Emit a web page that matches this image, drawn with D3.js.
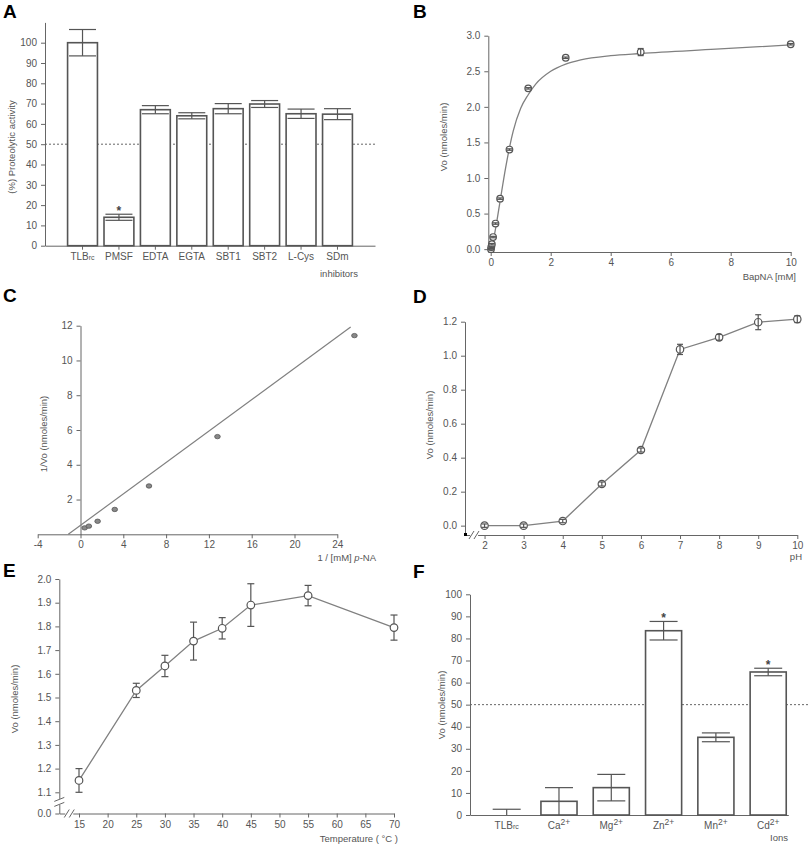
<!DOCTYPE html>
<html>
<head>
<meta charset="utf-8">
<script src="https://cdn.jsdelivr.net/npm/d3@7"></script>
<style>
  body { margin: 0; background: #fff; }
</style>
</head>
<body>
<div id="chart"></div>
<script>
// Data
// A - inhibitors
const inhibitors = ['TLBrc', 'PMSF', 'EDTA', 'EGTA', 'SBT1', 'SBT2', 'L-Cys', 'SDm']
const inhibitorActivity = [100, 14, 67, 64, 67.5, 69.8, 65, 64.8]
const inhibitorError = [6.5, 1.5, 2, 1.5, 2.5, 1.7, 2.3, 2.7]
const inhibitorStars = ['PMSF']

// B - Michaelis-Menten
const bapnaConc = [0.01, 0.02, 0.04, 0.08, 0.16, 0.3125, 0.625, 1.25, 2.5, 5, 10]
const bapnaVo = [0.0, 0.03, 0.07, 0.17, 0.36, 0.71, 1.40, 2.26, 2.69, 2.77, 2.88]
const bapnaErr = [0.01, 0.01, 0.01, 0.01, 0.01, 0.01, 0.01, 0.01, 0.01, 0.05, 0.01]
const bapnaFitX = [0, 0.1, 0.2, 0.3, 0.5, 0.75, 1, 1.25, 1.5, 2, 2.5, 3, 4, 5, 7.5, 10]
const bapnaFitY = [0, 0.15, 0.38, 0.64, 1.15, 1.66, 1.98, 2.17, 2.32, 2.50, 2.60, 2.66, 2.72, 2.75, 2.81, 2.87]

// C - Lineweaver-Burk
const lbX = [0.39, 0.78, 1.6, 3.2, 6.4, 12.8, 25.6]
const lbY = [0.37, 0.47, 0.75, 1.43, 2.78, 5.62, 11.43]
const lbFitX = [-1.14, 25.25]
const lbFitY = [0, 11.93]

// D - pH
const phValues = [2, 3, 4, 5, 6, 7, 8, 9, 10]
const phVo = [0.0, 0.0, 0.027, 0.245, 0.445, 1.037, 1.108, 1.197, 1.215]
const phErr = [0.01, 0.01, 0.01, 0.012, 0.012, 0.03, 0.017, 0.044, 0.02]

// E - temperature
const temps = [15, 25, 30, 35, 40, 45, 55, 70]
const tempVo = [1.15, 1.53, 1.633, 1.738, 1.792, 1.89, 1.93, 1.795]
const tempErr = [0.05, 0.03, 0.045, 0.08, 0.045, 0.09, 0.043, 0.053]

// F - ions
const ions = ['TLBrc', 'Ca', 'Mg', 'Zn', 'Mn', 'Cd']
const ionVo = [0, 6.2, 12.4, 83.5, 35.2, 64.8]
const ionErr = [2.6, 6.2, 6, 4.2, 2, 1.7]
const ionStars = ['Zn', 'Cd']

// Style
const font = '"Liberation Sans", Arial, sans-serif'
const textColor = '#555'
const axisColor = '#666'
const markColor = '#555'
const lineColor = '#808080'

const svg = d3.select('#chart')
  .append('svg')
  .attr('width', 809)
  .attr('height', 846)
  .attr('font-family', font)

function styleAxis(g) {
  g.selectAll('path, line').attr('stroke', axisColor).attr('stroke-width', 1)
  g.selectAll('text').attr('fill', textColor).attr('font-size', 10).attr('font-family', font)
  return g
}

function panelLetter(letter, x, y) {
  svg.append('text')
    .attr('x', x).attr('y', y)
    .attr('font-size', 19).attr('font-weight', 'bold')
    .attr('fill', '#000')
    .text(letter)
}

function yLabel(text, x, y) {
  return svg.append('text')
    .attr('transform', `translate(${x},${y}) rotate(-90)`)
    .attr('text-anchor', 'middle')
    .attr('font-size', 9.5)
    .attr('fill', textColor)
    .text(text)
}

function xLabel(text, x, y) {
  return svg.append('text')
    .attr('x', x).attr('y', y)
    .attr('text-anchor', 'end')
    .attr('font-size', 9.5)
    .attr('fill', textColor)
    .text(text)
}

function errorBars(g, xs, ys, es, xScale, yScale, half, floor) {
  const data = xs.map((x, i) => ({ x, lo: Math.max(floor, ys[i] - es[i]), hi: ys[i] + es[i] }))
  g.selectAll(null).data(data).join('line')
    .attr('x1', d => xScale(d.x)).attr('x2', d => xScale(d.x))
    .attr('y1', d => yScale(d.lo)).attr('y2', d => yScale(d.hi))
    .attr('stroke', markColor).attr('stroke-width', 1.2)
  g.selectAll(null).data(data).join('line')
    .attr('x1', d => xScale(d.x) - half).attr('x2', d => xScale(d.x) + half)
    .attr('y1', d => yScale(d.hi)).attr('y2', d => yScale(d.hi))
    .attr('stroke', markColor).attr('stroke-width', 1.2)
  g.selectAll(null).data(data.filter(d => d.lo > floor)).join('line')
    .attr('x1', d => xScale(d.x) - half).attr('x2', d => xScale(d.x) + half)
    .attr('y1', d => yScale(d.lo)).attr('y2', d => yScale(d.lo))
    .attr('stroke', markColor).attr('stroke-width', 1.2)
}

function breakMark(g, cx, cy, vertical) {
  // two short slanted strokes across an axis
  const off = [-2.5, 2.5]
  off.forEach(o => {
    g.append('line')
      .attr('x1', vertical ? cx - 5 : cx + o - 2.5)
      .attr('x2', vertical ? cx + 5 : cx + o + 2.5)
      .attr('y1', vertical ? cy + o + 2 : cy + 4)
      .attr('y2', vertical ? cy + o - 2 : cy - 4)
      .attr('stroke', axisColor).attr('stroke-width', 1)
  })
}

// ---------------- Panel A ----------------
{
  const xA = d3.scaleBand().domain(inhibitors).range([45, 375]).paddingInner(0.18).paddingOuter(0.62)
  const yA = d3.scaleLinear().domain([0, 110]).range([245.7, 22.4])
  const g = svg.append('g')

  styleAxis(g.append('g')
    .attr('transform', 'translate(45,0)')
    .call(d3.axisLeft(yA).tickValues(d3.range(0, 101, 10)).tickSize(4).tickPadding(4).tickSizeOuter(0)))

  const xAxisG = styleAxis(g.append('g')
    .attr('transform', `translate(0,${yA(0)})`)
    .call(d3.axisBottom(xA).tickSize(4).tickSizeOuter(0)))
  xAxisG.selectAll('.tick text').each(function(d) {
    if (d === 'TLBrc') {
      const t = d3.select(this).text(null)
      t.append('tspan').text('TLB')
      t.append('tspan').attr('font-size', 7).text('rc')
    }
  })

  g.append('line')
    .attr('x1', 45).attr('x2', 375)
    .attr('y1', yA(50)).attr('y2', yA(50))
    .attr('stroke', '#666').attr('stroke-dasharray', '2,2')

  g.selectAll('rect').data(inhibitors).join('rect')
    .attr('x', d => xA(d))
    .attr('y', (d, i) => yA(inhibitorActivity[i]))
    .attr('width', xA.bandwidth())
    .attr('height', (d, i) => yA(0) - yA(inhibitorActivity[i]))
    .attr('fill', 'white').attr('stroke', markColor).attr('stroke-width', 1.6)

  const cx = d => xA(d) + xA.bandwidth() / 2
  errorBars(g, inhibitors, inhibitorActivity, inhibitorError, cx, yA, 13.5, -1)

  g.selectAll('.star').data(inhibitorStars).join('text')
    .attr('x', d => cx(d))
    .attr('y', d => { const i = inhibitors.indexOf(d); return yA(inhibitorActivity[i] + inhibitorError[i]) + 1 })
    .attr('text-anchor', 'middle').attr('font-size', 12).attr('font-weight', 'bold')
    .attr('fill', '#444').text('*')

  yLabel('(%) Proteolytic activity', 15, 147)
  svg.append('text').attr('x', 320).attr('y', 277)
    .attr('font-size', 9.5).attr('fill', textColor).text('inhibitors')
  panelLetter('A', 3, 18)
}

// ---------------- Panel B ----------------
{
  const xB = d3.scaleLinear().domain([-0.08, 10]).range([488.3, 790.7])
  const yB = d3.scaleLinear().domain([-0.04, 3]).range([252, 35.7])
  const g = svg.append('g')

  styleAxis(g.append('g')
    .attr('transform', `translate(${xB(-0.08)},0)`)
    .call(d3.axisLeft(yB).tickValues(d3.range(0, 3.01, 0.5)).tickFormat(d3.format('.1f')).tickSize(4).tickPadding(4).tickSizeOuter(0)))
  styleAxis(g.append('g')
    .attr('transform', `translate(0,${yB(-0.04)})`)
    .call(d3.axisBottom(xB).tickValues(d3.range(0, 11, 2)).tickSize(4).tickSizeOuter(0)))

  const fit = bapnaFitX.map((x, i) => [x, bapnaFitY[i]])
  g.append('path')
    .datum(fit)
    .attr('d', d3.line().x(d => xB(d[0])).y(d => yB(d[1])).curve(d3.curveMonotoneX))
    .attr('fill', 'none').attr('stroke', lineColor).attr('stroke-width', 1.3)

  g.selectAll('circle').data(bapnaConc).join('circle')
    .attr('cx', d => xB(d))
    .attr('cy', (d, i) => yB(bapnaVo[i]))
    .attr('r', 3.3)
    .attr('fill', 'white').attr('stroke', markColor).attr('stroke-width', 1.2)
  errorBars(g, bapnaConc, bapnaVo, bapnaErr, xB, yB, 3, -1)

  yLabel('Vo (nmoles/min)', 447, 137)
  xLabel('BapNA [mM]', 796, 280)
  panelLetter('B', 413, 18)
}

// ---------------- Panel C ----------------
{
  const xC = d3.scaleLinear().domain([-4, 24]).range([37.7, 337.3])
  const yC = d3.scaleLinear().domain([0, 12]).range([534.3, 325.7])
  const g = svg.append('g')

  styleAxis(g.append('g')
    .attr('transform', `translate(${xC(0)},0)`)
    .call(d3.axisLeft(yC).tickValues(d3.range(2, 13, 2)).tickSize(4).tickPadding(4).tickSizeOuter(0)))
  styleAxis(g.append('g')
    .attr('transform', `translate(0,${yC(0)})`)
    .call(d3.axisBottom(xC).tickValues(d3.range(-4, 25, 4)).tickFormat(d => String(d)).tickSize(4).tickSizeOuter(0)))

  const fit = lbFitX.map((x, i) => [x, lbFitY[i]])
  g.append('path')
    .datum(fit)
    .attr('d', d3.line().x(d => xC(d[0])).y(d => yC(d[1])))
    .attr('fill', 'none').attr('stroke', lineColor).attr('stroke-width', 1.2)

  g.selectAll('ellipse').data(lbX).join('ellipse')
    .attr('cx', d => xC(d))
    .attr('cy', (d, i) => yC(lbY[i]))
    .attr('rx', 2.8).attr('ry', 2.2)
    .attr('fill', '#888').attr('stroke', '#555').attr('stroke-width', 0.8)

  yLabel('1/Vo (nmoles/min)', 47, 434)
  const t = xLabel('', 376, 561)
  t.append('tspan').text('1 / [mM] ')
  t.append('tspan').attr('font-style', 'italic').text('p')
  t.append('tspan').text('-NA')
  panelLetter('C', 3, 302)
}

// ---------------- Panel D ----------------
{
  const xD = d3.scaleLinear().domain([1.5, 10]).range([465, 797.3])
  const yD = d3.scaleLinear().domain([-0.055, 1.2]).range([535, 321.7])
  const g = svg.append('g')

  styleAxis(g.append('g')
    .attr('transform', `translate(${xD(1.5)},0)`)
    .call(d3.axisLeft(yD).tickValues(d3.range(0, 1.21, 0.2)).tickFormat(d3.format('.1f')).tickSize(4).tickPadding(4).tickSizeOuter(0)))
  styleAxis(g.append('g')
    .attr('transform', `translate(0,${yD(-0.055)})`)
    .call(d3.axisBottom(xD).tickValues(d3.range(2, 11, 1)).tickSize(4).tickSizeOuter(0)))

  // axis break and corner
  g.append('rect').attr('x', xD(1.5) - 1).attr('y', yD(-0.055) - 2).attr('width', 3).attr('height', 3).attr('fill', '#000')
  g.append('rect').attr('x', xD(1.63)).attr('y', yD(-0.055) - 5).attr('width', 8).attr('height', 10).attr('fill', 'white')
  breakMark(g, xD(1.73), yD(-0.055), false)

  const pts = phValues.map((x, i) => [x, phVo[i]])
  g.append('path')
    .datum(pts)
    .attr('d', d3.line().x(d => xD(d[0])).y(d => yD(d[1])))
    .attr('fill', 'none').attr('stroke', lineColor).attr('stroke-width', 1.3)

  g.selectAll('circle').data(phValues).join('circle')
    .attr('cx', d => xD(d))
    .attr('cy', (d, i) => yD(phVo[i]))
    .attr('r', 3.7)
    .attr('fill', 'white').attr('stroke', markColor).attr('stroke-width', 1.2)
  errorBars(g, phValues, phVo, phErr, xD, yD, 3, -1)

  yLabel('Vo (nmoles/min)', 433, 425)
  xLabel('pH', 802, 560)
  panelLetter('D', 413, 303)
}

// ---------------- Panel E ----------------
{
  const xE = d3.scaleLinear().domain([11.56, 70]).range([59.3, 394])
  const yE = d3.scaleLinear().domain([0, 1.1, 2.0]).range([813.5, 792.3, 579])
  const g = svg.append('g')

  const yTicks = [0].concat(d3.range(1.1, 2.01, 0.1))
  styleAxis(g.append('g')
    .attr('transform', `translate(${xE(11.56)},0)`)
    .call(d3.axisLeft(yE).tickValues(yTicks).tickFormat(d3.format('.1f')).tickSize(4).tickPadding(4).tickSizeOuter(0)))
  styleAxis(g.append('g')
    .attr('transform', `translate(0,${yE(0)})`)
    .call(d3.axisBottom(xE).tickValues(d3.range(15, 71, 5)).tickSize(4).tickSizeOuter(0)))

  g.append('rect').attr('x', xE(11.56) - 3).attr('y', yE(0.55) - 4).attr('width', 6).attr('height', 6).attr('fill', 'white')
  breakMark(g, xE(11.56), yE(0.55) - 1, true)
  g.append('rect').attr('x', xE(12.6)).attr('y', yE(0) - 5).attr('width', 8).attr('height', 10).attr('fill', 'white')
  breakMark(g, xE(13.3), yE(0), false)

  const pts = temps.map((x, i) => [x, tempVo[i]])
  g.append('path')
    .datum(pts)
    .attr('d', d3.line().x(d => xE(d[0])).y(d => yE(d[1])))
    .attr('fill', 'none').attr('stroke', lineColor).attr('stroke-width', 1.3)

  errorBars(g, temps, tempVo, tempErr, xE, yE, 3.5, -1)
  g.selectAll('circle').data(temps).join('circle')
    .attr('cx', d => xE(d))
    .attr('cy', (d, i) => yE(tempVo[i]))
    .attr('r', 3.8)
    .attr('fill', 'white').attr('stroke', markColor).attr('stroke-width', 1.2)

  yLabel('Vo (nmoles/min)', 18, 699)
  xLabel('Temperature ( \u00B0C )', 398, 842)
  panelLetter('E', 3, 577)
}

// ---------------- Panel F ----------------
{
  const xF = d3.scaleBand().domain(ions).range([470, 788.3]).paddingInner(0.31).paddingOuter(0.198).align(0.9)
  const yF = d3.scaleLinear().domain([0, 100]).range([815, 594.3])
  const g = svg.append('g')

  styleAxis(g.append('g')
    .attr('transform', 'translate(470,0)')
    .call(d3.axisLeft(yF).tickValues(d3.range(0, 101, 10)).tickSize(4).tickPadding(4).tickSizeOuter(0)))
  const xAxisG = styleAxis(g.append('g')
    .attr('transform', `translate(0,${yF(0)})`)
    .call(d3.axisBottom(xF).tickSize(0).tickPadding(7).tickSizeOuter(0)))
  xAxisG.selectAll('.tick text').each(function(d) {
    const t = d3.select(this).text(null)
    if (d === 'TLBrc') {
      t.append('tspan').text('TLB')
      t.append('tspan').attr('font-size', 7).text('rc')
    } else {
      t.append('tspan').text(d)
      t.append('tspan').attr('dy', -4).attr('font-size', 8.5).text('2+')
    }
  })

  g.append('line')
    .attr('x1', 470).attr('x2', 809)
    .attr('y1', yF(50)).attr('y2', yF(50))
    .attr('stroke', '#666').attr('stroke-dasharray', '2,2')

  g.selectAll('rect').data(ions).join('rect')
    .attr('x', d => xF(d))
    .attr('y', (d, i) => yF(ionVo[i]))
    .attr('width', xF.bandwidth())
    .attr('height', (d, i) => yF(0) - yF(ionVo[i]))
    .attr('fill', 'white').attr('stroke', markColor).attr('stroke-width', 1.6)

  const cx = d => xF(d) + xF.bandwidth() / 2
  errorBars(g, ions, ionVo, ionErr, cx, yF, 14, 0)

  g.selectAll('.star').data(ionStars).join('text')
    .attr('x', d => cx(d))
    .attr('y', d => { const i = ions.indexOf(d); return yF(ionVo[i] + ionErr[i]) + 1 })
    .attr('text-anchor', 'middle').attr('font-size', 12).attr('font-weight', 'bold')
    .attr('fill', '#444').text('*')

  yLabel('Vo (nmoles/min)', 445, 705)
  xLabel('Ions', 788, 841)
  panelLetter('F', 413, 578)
}
</script>
</body>
</html>
